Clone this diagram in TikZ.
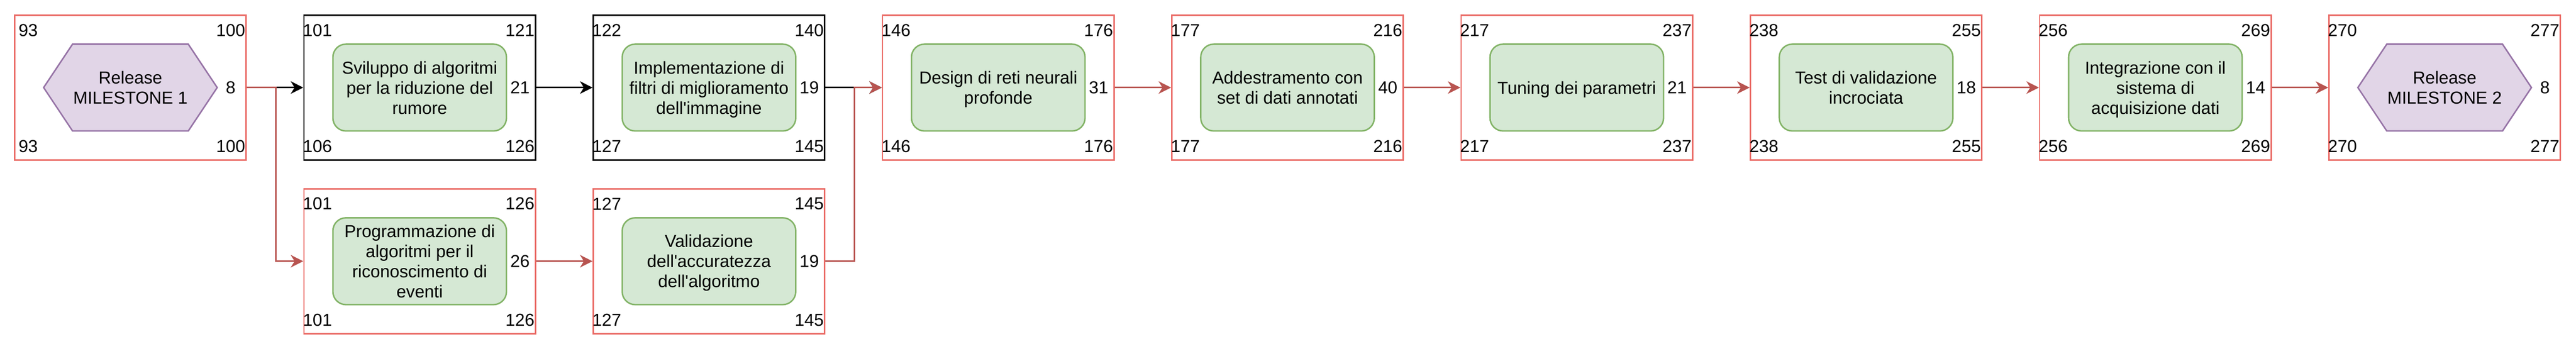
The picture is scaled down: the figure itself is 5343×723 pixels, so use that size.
\documentclass[tikz,border=0pt]{standalone}
\usepackage{fontspec}
\setmainfont{Liberation Sans}[Ligatures=TeXOff]
\usetikzlibrary{arrows.meta}
\definecolor{boxred}{HTML}{EA6B66}
\definecolor{edgered}{HTML}{B85450}
\definecolor{taskfill}{HTML}{D5E8D4}
\definecolor{taskdraw}{HTML}{82B366}
\definecolor{msfill}{HTML}{E1D5E7}
\definecolor{msdraw}{HTML}{9673A6}
% #1 name, #2 x, #3 y, #4 frame style, #5 TL, #6 TR, #7 BL, #8 BR, #9 mid-right
\newcommand\mkstage[9]{%
  \node[#4] (#1) at (#2,#3) {};
  \node[num] (#1tl) at ([shift={(-212,-119)}]#1.center) {#5};
  \node[num] (#1tr) at ([shift={(208,-119)}]#1.center) {#6};
  \node[num] (#1bl) at ([shift={(-212,122)}]#1.center) {#7};
  \node[num] (#1br) at ([shift={(208,122)}]#1.center) {#8};
  \node[num] (#1mr) at ([shift={(208,0)}]#1.center) {#9};
}
\newcommand\mkhex[3]{%
  \coordinate (#1c) at (#2);
  \draw[hexa] (#1c) ++(-180,0) -- ++(60,-90) -- ++(240,0) -- ++(60,90)
     -- ++(-60,90) -- ++(-240,0) -- cycle;
  \node[hextext] (#1) at (#1c) {#3};
}
\begin{document}
\begin{tikzpicture}[x=1pt,y=-1pt,
  every node/.style={font=\fontsize{36}{41.7}\selectfont, inner sep=0pt},
  num/.style={},
  frameR/.style={draw=boxred, line width=3pt, minimum width=480pt, minimum height=300pt},
  frameK/.style={draw=black, line width=3pt, minimum width=480pt, minimum height=300pt},
  task/.style={draw=taskdraw, fill=taskfill, line width=3pt, rounded corners=27pt,
    minimum width=360pt, minimum height=180pt, align=center, text depth=0pt},
  hexa/.style={draw=msdraw, fill=msfill, line width=3pt, line join=miter},
  hextext/.style={align=center, text depth=0pt},
  blkE/.style={draw=black, line width=3pt, -{Stealth[length=26pt,width=26pt,inset=8pt]}},
  redE/.style={draw=edgered, line width=3pt, -{Stealth[length=26pt,width=26pt,inset=8pt]}}
]
\useasboundingbox (0,0) rectangle (5343,723);

% top row
\mkstage{s1}{270.5}{181.5}{frameR}{93}{100}{93}{100}{8}
\mkhex{m1}{270.5,181.5}{Release\\MILESTONE 1}

\mkstage{s2}{870.5}{181.5}{frameK}{101}{121}{106}{126}{21}
\node[task] (t2) at (s2.center) {Sviluppo di algoritmi\\per la riduzione del\\rumore};

\mkstage{s3}{1470.5}{181.5}{frameK}{122}{140}{127}{145}{19}
\node[task] (t3) at (s3.center) {Implementazione di\\filtri di miglioramento\\dell'immagine};

\mkstage{s4}{2070.5}{181.5}{frameR}{146}{176}{146}{176}{31}
\node[task] (t4) at (s4.center) {Design di reti neurali\\profonde};

\mkstage{s5}{2670.5}{181.5}{frameR}{177}{216}{177}{216}{40}
\node[task] (t5) at (s5.center) {Addestramento con\\set di dati annotati};

\mkstage{s6}{3270.5}{181.5}{frameR}{217}{237}{217}{237}{21}
\node[task] (t6) at (s6.center) {Tuning dei parametri};

\mkstage{s7}{3870.5}{181.5}{frameR}{238}{255}{238}{255}{18}
\node[task] (t7) at (s7.center) {Test di validazione\\incrociata};

\mkstage{s8}{4470.5}{181.5}{frameR}{256}{269}{256}{269}{14}
\node[task] (t8) at (s8.center) {Integrazione con il\\sistema di\\acquisizione dati};

\mkstage{s9}{5070.5}{181.5}{frameR}{270}{277}{270}{277}{8}
\mkhex{m2}{5070.5,181.5}{Release\\MILESTONE 2}

% bottom row
\mkstage{b1}{870.5}{541.5}{frameR}{101}{126}{101}{126}{26}
\node[task] (u1) at (b1.center) {Programmazione di\\algoritmi per il\\riconoscimento di\\eventi};

\mkstage{b2}{1470.5}{541.5}{frameR}{127}{145}{127}{145}{19}
\node[task] (u2) at (b2.center) {Validazione\\dell'accuratezza\\dell'algoritmo};

% connectors: black first, red on top
\draw[blkE] (s1.east) -- (s2.west);
\draw[blkE] (s2.east) -- (s3.west);
\draw[blkE] (s3.east) -- (s4.west);
\draw[redE] (s1.east) -- ++(60,0) |- (b1.west);
\draw[redE] (b1.east) -- (b2.west);
\draw[redE] (b2.east) -- ++(60,0) |- (s4.west);
\draw[redE] (s4.east) -- (s5.west);
\draw[redE] (s5.east) -- (s6.west);
\draw[redE] (s6.east) -- (s7.west);
\draw[redE] (s7.east) -- (s8.west);
\draw[redE] (s8.east) -- (s9.west);
\end{tikzpicture}
\end{document}
